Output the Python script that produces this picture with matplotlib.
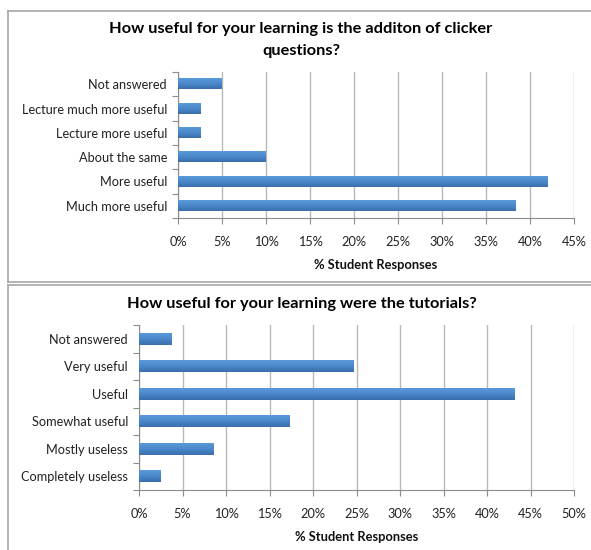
import numpy as np
import matplotlib
matplotlib.use("Agg")
import matplotlib.pyplot as plt
from matplotlib.lines import Line2D
from matplotlib.colors import LinearSegmentedColormap

plt.rcParams['font.family'] = ['Lato', 'DejaVu Sans']

# clicker questions (bottom to top)
clicker_labels = ["Much more useful", "More useful", "About the same",
                  "Lecture more useful", "Lecture much more useful", "Not answered"]
clicker_values = [38.4, 42.0, 10.0, 2.6, 2.6, 5.0]

# tutorials (bottom to top)
tut_labels = ["Completely useless", "Mostly useless", "Somewhat useful",
              "Useful", "Very useful", "Not answered"]
tut_values = [2.5, 8.6, 17.3, 43.2, 24.7, 3.7]

W, H = 591, 550
fig = plt.figure(figsize=(W / 100, H / 100), dpi=100)

bar_cmap = LinearSegmentedColormap.from_list(
    "bar", ["#5a9ad9", "#4a88cb", "#3a6eab"])
grad = np.linspace(0, 1, 64).reshape(-1, 1)
grid_c = "#b8b8b8"
axis_c = "#8c8c8c"


def px(x0, y0, x1, y1):
    # pixel box -> figure fraction [left, bottom, width, height]
    return [x0 / W, 1 - y1 / H, (x1 - x0) / W, (y1 - y0) / H]


def draw_bars(ax, labels, values, xmax):
    n = len(labels)
    h = 0.43
    for i, v in enumerate(values):
        ax.imshow(grad, extent=[0, v, i - h / 2, i + h / 2], aspect='auto',
                  cmap=bar_cmap, origin='upper', zorder=3)
    ax.set_xlim(0, xmax)
    ax.set_ylim(-0.5, n - 0.5)
    ax.set_yticks(range(n))
    ax.set_yticklabels(labels, fontsize=9.2, color="#222222")
    ax.set_yticks(np.arange(-0.5, n, 1), minor=True)
    ax.tick_params(axis='y', which='major', length=0, pad=8)
    ax.tick_params(axis='y', which='minor', length=4, color=axis_c, width=0.8)
    xt = np.arange(0, xmax + 0.1, 5)
    ax.set_xticks(xt)
    ax.set_xticklabels([f"{int(t)}%" for t in xt], fontsize=9.2, color="#222222")
    ax.tick_params(axis='x', length=4, color=axis_c, width=0.8, pad=9)
    ax.grid(axis='x', color=grid_c, lw=1.0, zorder=0)
    ax.set_axisbelow(True)
    for s in ["top", "right"]:
        ax.spines[s].set_visible(False)
    for s in ["left", "bottom"]:
        ax.spines[s].set_color(axis_c)
        ax.spines[s].set_linewidth(0.8)
    ax.set_xlabel("% Student Responses", fontsize=9.3, fontweight='bold',
                  labelpad=8, color="#111111")


ax1 = fig.add_axes(px(178, 72, 574, 218))
draw_bars(ax1, clicker_labels, clicker_values, 45)

ax2 = fig.add_axes(px(139, 325, 574, 490))
draw_bars(ax2, tut_labels, tut_values, 50)

fig.text(301 / W, 1 - 29 / H, "How useful for your learning is the additon of clicker",
         ha='center', va='center', fontsize=11.8, fontweight='bold')
fig.text(301 / W, 1 - 51 / H, "questions?",
         ha='center', va='center', fontsize=11.8, fontweight='bold')
fig.text(302 / W, 1 - 304 / H, "How useful for your learning were the tutorials?",
         ha='center', va='center', fontsize=11.8, fontweight='bold')

# panel borders
bc = "#a6a6a6"
def fline(xs, ys):
    fig.add_artist(Line2D([x / W for x in xs], [1 - y / H for y in ys],
                          color=bc, lw=1.2))

fline([8, W], [11, 11])
fline([8, 8], [11, 282])
fline([8, W], [282, 282])
fline([8, W], [285, 285])
fline([8, 8], [285, H])

fig.savefig("out.png", dpi=100)
